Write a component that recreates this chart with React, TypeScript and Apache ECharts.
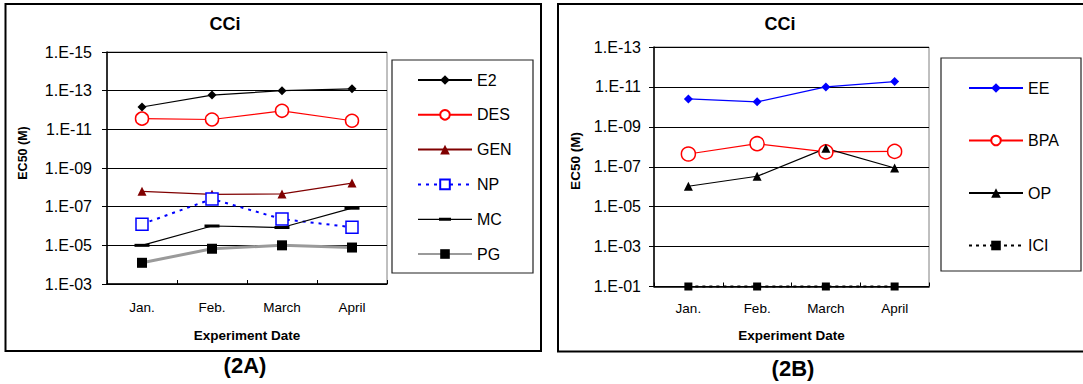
import React, { useEffect, useRef } from "react";
import * as echarts from "echarts";

const months = ["Jan.", "Feb.", "March", "April"];

// Panel 2A (EC50, M)
const E2 = [7e-13, 1.7e-13, 1e-13, 8e-14];
const DES = [2.8e-12, 3.1e-12, 1.1e-12, 3.6e-12];
const GEN = [1.6e-8, 2.3e-8, 2.2e-8, 6e-9];
const NP = [8e-7, 4e-8, 4.4e-7, 1.15e-6];
const MC = [1e-5, 1e-6, 1.2e-6, 1.2e-7];
const PG = [8e-5, 1.5e-5, 1e-5, 1.3e-5];

// Panel 2B (EC50, M)
const EE = [4e-11, 5.6e-11, 1e-11, 5.4e-12];
const BPA = [2.3e-8, 7e-9, 1.8e-8, 1.7e-8];
const OP = [9.5e-7, 3e-7, 1.2e-8, 1.15e-7];
const ICI = [0.1, 0.1, 0.1, 0.1];

const ticksA = ["1.E-15", "1.E-13", "1.E-11", "1.E-09", "1.E-07", "1.E-05", "1.E-03"];
const ticksB = ["1.E-13", "1.E-11", "1.E-09", "1.E-07", "1.E-05", "1.E-03", "1.E-01"];
const minExpA = -15;
const maxExpA = -3;
const minExpB = -13;
const maxExpB = -1;

const FONT = "'Liberation Sans', Arial, Helvetica, sans-serif";

const lg = (arr: number[]) => arr.map((v) => Math.log10(v));

export default function App() {
  const ref = useRef<HTMLDivElement>(null);

  useEffect(() => {
    document.body.style.margin = "0";
    if (!ref.current) return;
    const chart = echarts.init(ref.current, undefined, { renderer: "svg" });

    const yAxisBase = (min: number, max: number, labels: string[], margin: number) => ({
      type: "value",
      inverse: true,
      min,
      max,
      interval: 2,
      axisLine: { show: true, lineStyle: { color: "#000", width: 1.5 } },
      axisTick: { show: true, inside: false, length: 5, lineStyle: { color: "#000" } },
      splitLine: { show: true, lineStyle: { color: "#000", width: 1 } },
      axisLabel: {
        color: "#000",
        fontFamily: FONT,
        fontSize: 16,
        margin,
        formatter: (v: number) => labels[Math.round((v - min) / 2)] ?? "",
      },
    });

    const xAxisBase = (gridIndex: number, margin: number, nameGap: number) => ({
      type: "category",
      gridIndex,
      data: months,
      boundaryGap: true,
      axisLine: { show: true, lineStyle: { color: "#000", width: 1.5 } },
      axisTick: { show: true, inside: true, length: 4, lineStyle: { color: "#000" } },
      axisLabel: { color: "#000", fontFamily: FONT, fontSize: 13.5, margin },
      name: "Experiment Date",
      nameLocation: "middle",
      nameGap,
      nameTextStyle: { color: "#000", fontFamily: FONT, fontSize: 13.5, fontWeight: "bold" },
    });

    const mk = (
      name: string,
      data: number[],
      axis: number,
      color: string,
      symbol: string,
      symbolSize: any,
      lineStyle: any,
      itemStyle: any
    ) => ({
      name,
      type: "line",
      xAxisIndex: axis,
      yAxisIndex: axis,
      data: lg(data),
      symbol,
      symbolSize,
      clip: false,
      lineStyle: { color, width: 1.2, ...lineStyle },
      itemStyle: { color, ...itemStyle },
      emphasis: { disabled: true },
    });

    const mcIcon =
      "path://M0,0H0.01V0.01H0Z M53.99,11.99H54V12H53.99Z M0,5.5H54V6.7H0Z M21,4.5H33V7.6H21Z";

    const legendText = { color: "#000", fontFamily: FONT, fontSize: 16, lineHeight: 12 };

    const option: any = {
      animation: false,
      backgroundColor: "#fff",
      grid: [
        { left: 107, top: 52, width: 280, height: 232, show: true, borderColor: "#808080", borderWidth: 1 },
        { left: 654, top: 47, width: 275, height: 239.5, show: true, borderColor: "#808080", borderWidth: 1 },
      ],
      xAxis: [xAxisBase(0, 16, 44), xAxisBase(1, 15, 42)],
      yAxis: [
        { gridIndex: 0, ...yAxisBase(minExpA, maxExpA, ticksA, 15) },
        { gridIndex: 1, ...yAxisBase(minExpB, maxExpB, ticksB, 13) },
      ],
      legend: [
        {
          orient: "vertical",
          left: 417,
          top: 72,
          padding: 0,
          itemWidth: 54,
          itemHeight: 12,
          itemGap: 18.8,
          selectedMode: false,
          textStyle: legendText,
          data: ["E2", "DES", "GEN", "NP", { name: "MC", icon: mcIcon }, "PG"],
        },
        {
          orient: "vertical",
          left: 968,
          top: 80,
          padding: 0,
          itemWidth: 54,
          itemHeight: 12,
          itemGap: 36.5,
          selectedMode: false,
          textStyle: legendText,
          data: ["EE", "BPA", "OP", "ICI"],
        },
      ],
      series: [
        mk("E2", E2, 0, "#000", "diamond", 9, {}, {}),
        mk("DES", DES, 0, "#ff0000", "circle", 13, {}, { color: "#fff", borderColor: "#ff0000", borderWidth: 1.5 }),
        mk("GEN", GEN, 0, "#800000", "triangle", 9, {}, {}),
        mk("NP", NP, 0, "#0000ff", "rect", 12, { type: [3, 5], width: 2 }, { color: "#fff", borderColor: "#0000ff", borderWidth: 1.5 }),
        mk("MC", MC, 0, "#000", "rect", [15, 3], {}, {}),
        mk("PG", PG, 0, "#000", "rect", 10, { color: "#9a9a9a", width: 3 }, {}),
        mk("EE", EE, 1, "#0000ff", "diamond", 9, {}, {}),
        mk("BPA", BPA, 1, "#ff0000", "circle", 14, {}, { color: "#fff", borderColor: "#ff0000", borderWidth: 1.5 }),
        mk("OP", OP, 1, "#000", "triangle", 9, {}, {}),
        mk("ICI", ICI, 1, "#000", "rect", 8, { type: [3, 4], width: 2 }, {}),
      ],
      graphic: [
        { type: "rect", shape: { x: 5.5, y: 4, width: 535.5, height: 347 }, style: { fill: "none", stroke: "#000", lineWidth: 2 }, silent: true },
        { type: "rect", shape: { x: 558, y: 4, width: 530, height: 347.5 }, style: { fill: "none", stroke: "#000", lineWidth: 2 }, silent: true },
        { type: "rect", shape: { x: 392, y: 60, width: 141, height: 213 }, style: { fill: "none", stroke: "#222", lineWidth: 1.2 }, silent: true },
        { type: "rect", shape: { x: 941, y: 58, width: 140, height: 213 }, style: { fill: "none", stroke: "#222", lineWidth: 1.2 }, silent: true },
        {
          type: "text", x: 225, y: 24,
          style: { text: "CCi", fill: "#000", fontFamily: FONT, fontSize: 18, fontWeight: "bold", align: "center", verticalAlign: "middle", textAlign: "center", textVerticalAlign: "middle" },
        },
        {
          type: "text", x: 780, y: 24,
          style: { text: "CCi", fill: "#000", fontFamily: FONT, fontSize: 18, fontWeight: "bold", align: "center", verticalAlign: "middle", textAlign: "center", textVerticalAlign: "middle" },
        },
        {
          type: "text", x: 23, y: 153,
          rotation: Math.PI / 2,
          style: { text: "EC50 (M)", fill: "#000", fontFamily: FONT, fontSize: 12.5, fontWeight: "bold", align: "center", verticalAlign: "middle", textAlign: "center", textVerticalAlign: "middle" },
        },
        {
          type: "text", x: 575, y: 161,
          rotation: Math.PI / 2,
          style: { text: "EC50 (M)", fill: "#000", fontFamily: FONT, fontSize: 13.5, fontWeight: "bold", align: "center", verticalAlign: "middle", textAlign: "center", textVerticalAlign: "middle" },
        },
        {
          type: "text", x: 245, y: 365,
          style: { text: "(2A)", fill: "#000", fontFamily: FONT, fontSize: 22, fontWeight: "bold", align: "center", verticalAlign: "middle", textAlign: "center", textVerticalAlign: "middle" },
        },
        {
          type: "text", x: 793, y: 368,
          style: { text: "(2B)", fill: "#000", fontFamily: FONT, fontSize: 22, fontWeight: "bold", align: "center", verticalAlign: "middle", textAlign: "center", textVerticalAlign: "middle" },
        },
      ],
    };

    chart.setOption(option);
    return () => chart.dispose();
  }, []);

  return <div ref={ref} style={{ width: 1083, height: 384 }} />;
}
